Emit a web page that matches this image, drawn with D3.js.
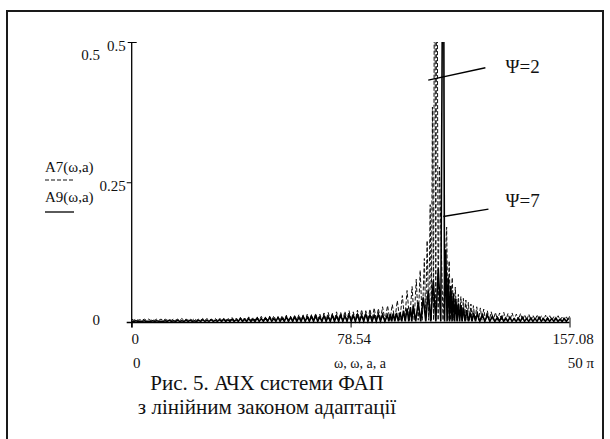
<!DOCTYPE html>
<html>
<head>
<meta charset="utf-8">
<script src="https://cdn.jsdelivr.net/npm/d3@7"></script>
<style>
  body { margin: 0; background: #fff; }
  svg text { font-family: "Liberation Serif", "Times New Roman", Times, serif; fill: #111; }
</style>
</head>
<body>
<div id="chart"></div>
<script>
// A7(w,a) - dashed trace, peaks of the oscillation
var omegaA7 = [0,1.5,3,4.5,6,7.5,9,10.5,12,13.5,15,16.5,18,19.5,21,22.5,24,25.5,27,28.5,30,
  31.5,33,34.5,36,37.5,39,40.5,42,43.5,45,46.5,48,49.5,51,52.5,54,55.5,57,58.5,60,
  61.5,63,64.5,66,67.5,69,70.5,72,73.5,75,76.5,78,79.5,81,82.5,84,85.5,87,88.5,90,
  91.8,93.5,95.3,97.1,98.8,100.6,102.1,103.5,105.0,106.0,107.1,107.9,108.7,109.5,110.4,
  113.0,113.9,115.0,116.1,117.2,118.1,119.0,119.9,120.8,121.7,122.6,123.8,125.1,126.3,127.6,129,130.5,
  132,133.5,135,136.5,138,139.5,141,142.5,144,145.5,147,148.5,150,151.5,153,154.5,156,157.08];
var ampA7 = [0.006,0.006,0.005,0.006,0.006,0.005,0.006,0.006,0.006,0.005,0.006,0.006,0.007,0.006,0.006,0.007,0.006,0.007,0.007,0.006,0.007,
  0.008,0.007,0.008,0.009,0.008,0.009,0.008,0.010,0.009,0.010,0.011,0.010,0.011,0.012,0.010,0.012,0.013,0.011,0.013,0.014,
  0.013,0.015,0.014,0.016,0.015,0.017,0.018,0.016,0.019,0.018,0.020,0.021,0.019,0.022,0.023,0.021,0.024,0.026,0.025,0.028,
  0.030,0.032,0.039,0.048,0.057,0.064,0.077,0.093,0.114,0.146,0.21,0.384,0.9,0.9,0.277,
  0.17,0.11,0.08,0.063,0.05,0.046,0.043,0.040,0.036,0.033,0.030,0.028,0.026,0.024,0.021,0.019,0.018,
  0.017,0.018,0.016,0.017,0.015,0.016,0.014,0.015,0.013,0.014,0.012,0.013,0.012,0.011,0.012,0.011,0.010,0.011];
var troughA7 = 0.004;

// A9(w,a) - solid trace
var omegaA9 = [0,1.5,3,4.5,6,7.5,9,10.5,12,13.5,15,16.5,18,19.5,21,22.5,24,25.5,27,28.5,30,
  31.5,33,34.5,36,37.5,39,40.5,42,43.5,45,46.5,48,49.5,51,52.5,54,55.5,57,58.5,60,
  61.5,63,64.5,66,67.5,69,70.5,72,73.5,75,76.5,78,79.5,81,82.5,84,85.5,87,88.5,90,
  91.7,92.8,93.8,95,96.3,97.5,98.8,100,101.0,102.8,104.6,106.4,108.2,110.0,111.8,112.7,113.6,
  114.5,115.4,116.3,117.2,118.1,119.0,120.2,121.5,122.7,124.0,125.8,127.6,129.4,131.2,
  132.7,134.2,135.7,137.2,138.7,140.2,141.7,143.2,144.7,146.2,147.7,149.2,150.7,152.2,153.7,155.2,156.7];
var ampA9 = [0.002,0.003,0.002,0.003,0.002,0.003,0.003,0.002,0.003,0.004,0.003,0.004,0.003,0.004,0.004,0.003,0.004,0.005,0.004,0.005,0.004,
  0.005,0.006,0.005,0.006,0.005,0.007,0.006,0.007,0.006,0.008,0.007,0.008,0.009,0.007,0.009,0.008,0.010,0.009,0.010,0.009,
  0.011,0.010,0.011,0.012,0.010,0.012,0.011,0.013,0.012,0.013,0.012,0.014,0.013,0.014,0.013,0.015,0.014,0.013,0.015,0.014,
  0.013,0.015,0.016,0.017,0.018,0.021,0.025,0.027,0.030,0.036,0.045,0.057,0.075,0.096,0.9,0.13,0.08,
  0.065,0.052,0.042,0.034,0.031,0.027,0.022,0.018,0.017,0.016,0.014,0.013,0.011,0.009,
  0.010,0.008,0.009,0.007,0.008,0.009,0.007,0.008,0.007,0.009,0.007,0.008,0.007,0.008,0.006,0.007,0.007];
var troughA9 = 0.002;

var xTicks = [0, 78.54, 157.08];
var xTickLabels = ["0", "78.54", "157.08"];
var yTicks = [0.25, 0.5];
var yTickLabels = ["0.25", "0.5"];
var xRangeLabels = ["0", "ω, ω, a, a", "50 π"];
var yRangeLabels = ["0.5", "0"];
var legendNames = ["A7(ω,a)", "A9(ω,a)"];
var captionLines = ["Рис. 5. АЧХ системи ФАП", "з лінійним законом адаптації"];

var width = 610, height = 439;
var serif = "'Liberation Serif', 'Times New Roman', Times, serif";

var svg = d3.select("#chart").append("svg")
  .attr("width", width)
  .attr("height", height);

// outer frame
svg.append("rect")
  .attr("x", 7).attr("y", 11)
  .attr("width", 596).attr("height", 450)
  .attr("fill", "none")
  .attr("stroke", "#1a1a1a")
  .attr("stroke-width", 2);

var x = d3.scaleLinear().domain([0, 157.08]).range([131.7, 569.5]);
var y = d3.scaleLinear().domain([0, 0.5]).range([322.5, 42]);

svg.append("defs").append("clipPath").attr("id", "plotclip")
  .append("rect")
  .attr("x", x(0) - 1).attr("y", y(0.5))
  .attr("width", x(157.08) - x(0) + 2).attr("height", y(0) - y(0.5) + 1);

// oscillating trace: peak, trough, peak ...
function tracePoints(w, a, low) {
  var pts = [];
  for (var i = 0; i < w.length; i++) {
    pts.push([w[i], a[i]]);
    if (i < w.length - 1) pts.push([(w[i] + w[i + 1]) / 2, low]);
  }
  return pts;
}

var line = d3.line()
  .x(function(d) { return x(d[0]); })
  .y(function(d) { return y(d[1]); });

var plot = svg.append("g").attr("clip-path", "url(#plotclip)");

plot.append("path")
  .datum(tracePoints(omegaA7, ampA7, troughA7))
  .attr("d", line)
  .attr("fill", "none")
  .attr("stroke", "#111")
  .attr("stroke-width", 1)
  .attr("stroke-dasharray", "4,2");

plot.append("path")
  .datum(tracePoints(omegaA9, ampA9, troughA9))
  .attr("d", line)
  .attr("fill", "none")
  .attr("stroke", "#000")
  .attr("stroke-width", 1.6);

// axes
var yAxis = d3.axisLeft(y)
  .tickValues(yTicks)
  .tickSize(5)
  .tickPadding(1)
  .tickFormat(function(d, i) { return yTickLabels[i]; });

var gy = svg.append("g")
  .attr("transform", "translate(" + x(0) + ",0)")
  .call(yAxis)
  .attr("font-family", serif);
gy.select(".domain").remove();
gy.selectAll("text").attr("dy", "0.55em").style("font-size", "15px");
// cap at top of y axis crosses the line
gy.selectAll(".tick").filter(function(d) { return d === 0.5; }).select("line").attr("x2", 5).attr("x1", -4);

svg.append("line")
  .attr("x1", x(0)).attr("x2", x(0))
  .attr("y1", y(0.5)).attr("y2", y(0) + 5)
  .attr("stroke", "#000").attr("stroke-width", 1.3);

var xAxis = d3.axisBottom(x)
  .tickValues(xTicks)
  .tickSize(5)
  .tickPadding(6)
  .tickFormat(function(d, i) { return xTickLabels[i]; });

var gx = svg.append("g")
  .attr("transform", "translate(0," + y(0) + ")")
  .call(xAxis)
  .attr("font-family", serif);
gx.select(".domain").remove();
gx.selectAll("text").attr("dx", 3).style("font-size", "15px");
gx.selectAll(".tick").filter(function(d) { return d === 157.08; }).select("line").attr("y1", -5);

svg.append("line")
  .attr("x1", x(0) - 5).attr("x2", x(157.08))
  .attr("y1", y(0)).attr("y2", y(0))
  .attr("stroke", "#000").attr("stroke-width", 1.6);

// range labels (Mathcad style)
svg.append("text").attr("x", 100).attr("y", 60).attr("text-anchor", "end")
  .style("font-size", "15px").text(yRangeLabels[0]);
svg.append("text").attr("x", 100).attr("y", 325).attr("text-anchor", "end")
  .style("font-size", "15px").text(yRangeLabels[1]);

svg.append("text").attr("x", 133).attr("y", 368)
  .style("font-size", "15px").text(xRangeLabels[0]);
svg.append("text").attr("x", 360).attr("y", 368).attr("text-anchor", "middle")
  .style("font-size", "14px").text(xRangeLabels[1]);
svg.append("text").attr("x", 594).attr("y", 368).attr("text-anchor", "end")
  .style("font-size", "15px").text(xRangeLabels[2]);

// legend
var legend = svg.append("g");
legend.append("text").attr("x", 45).attr("y", 172).style("font-size", "15px").text(legendNames[0]);
legend.append("line").attr("x1", 45).attr("x2", 74).attr("y1", 180).attr("y2", 180)
  .attr("stroke", "#111").attr("stroke-dasharray", "4,2");
legend.append("text").attr("x", 45).attr("y", 202).style("font-size", "15px").text(legendNames[1]);
legend.append("line").attr("x1", 45).attr("x2", 74).attr("y1", 212).attr("y2", 212)
  .attr("stroke", "#000").attr("stroke-width", 1.3);

// annotations
var notes = [
  {from: [106.4, 0.432], to: [126.9, 0.454], text: "Ψ=2", at: [134.1, 0.445]},
  {from: [111.8, 0.189], to: [128.0, 0.202], text: "Ψ=7", at: [134.1, 0.205]}
];
notes.forEach(function(n) {
  svg.append("line")
    .attr("x1", x(n.from[0])).attr("y1", y(n.from[1]))
    .attr("x2", x(n.to[0])).attr("y2", y(n.to[1]))
    .attr("stroke", "#000").attr("stroke-width", 1.4);
  svg.append("text")
    .attr("x", x(n.at[0])).attr("y", y(n.at[1]))
    .style("font-size", "19px")
    .text(n.text);
});

// caption
svg.selectAll(".caption")
  .data(captionLines)
  .enter().append("text")
  .attr("class", "caption")
  .attr("x", 267)
  .attr("y", function(d, i) { return 390 + i * 24; })
  .attr("text-anchor", "middle")
  .style("font-size", "21px")
  .text(function(d) { return d; });
</script>
</body>
</html>
